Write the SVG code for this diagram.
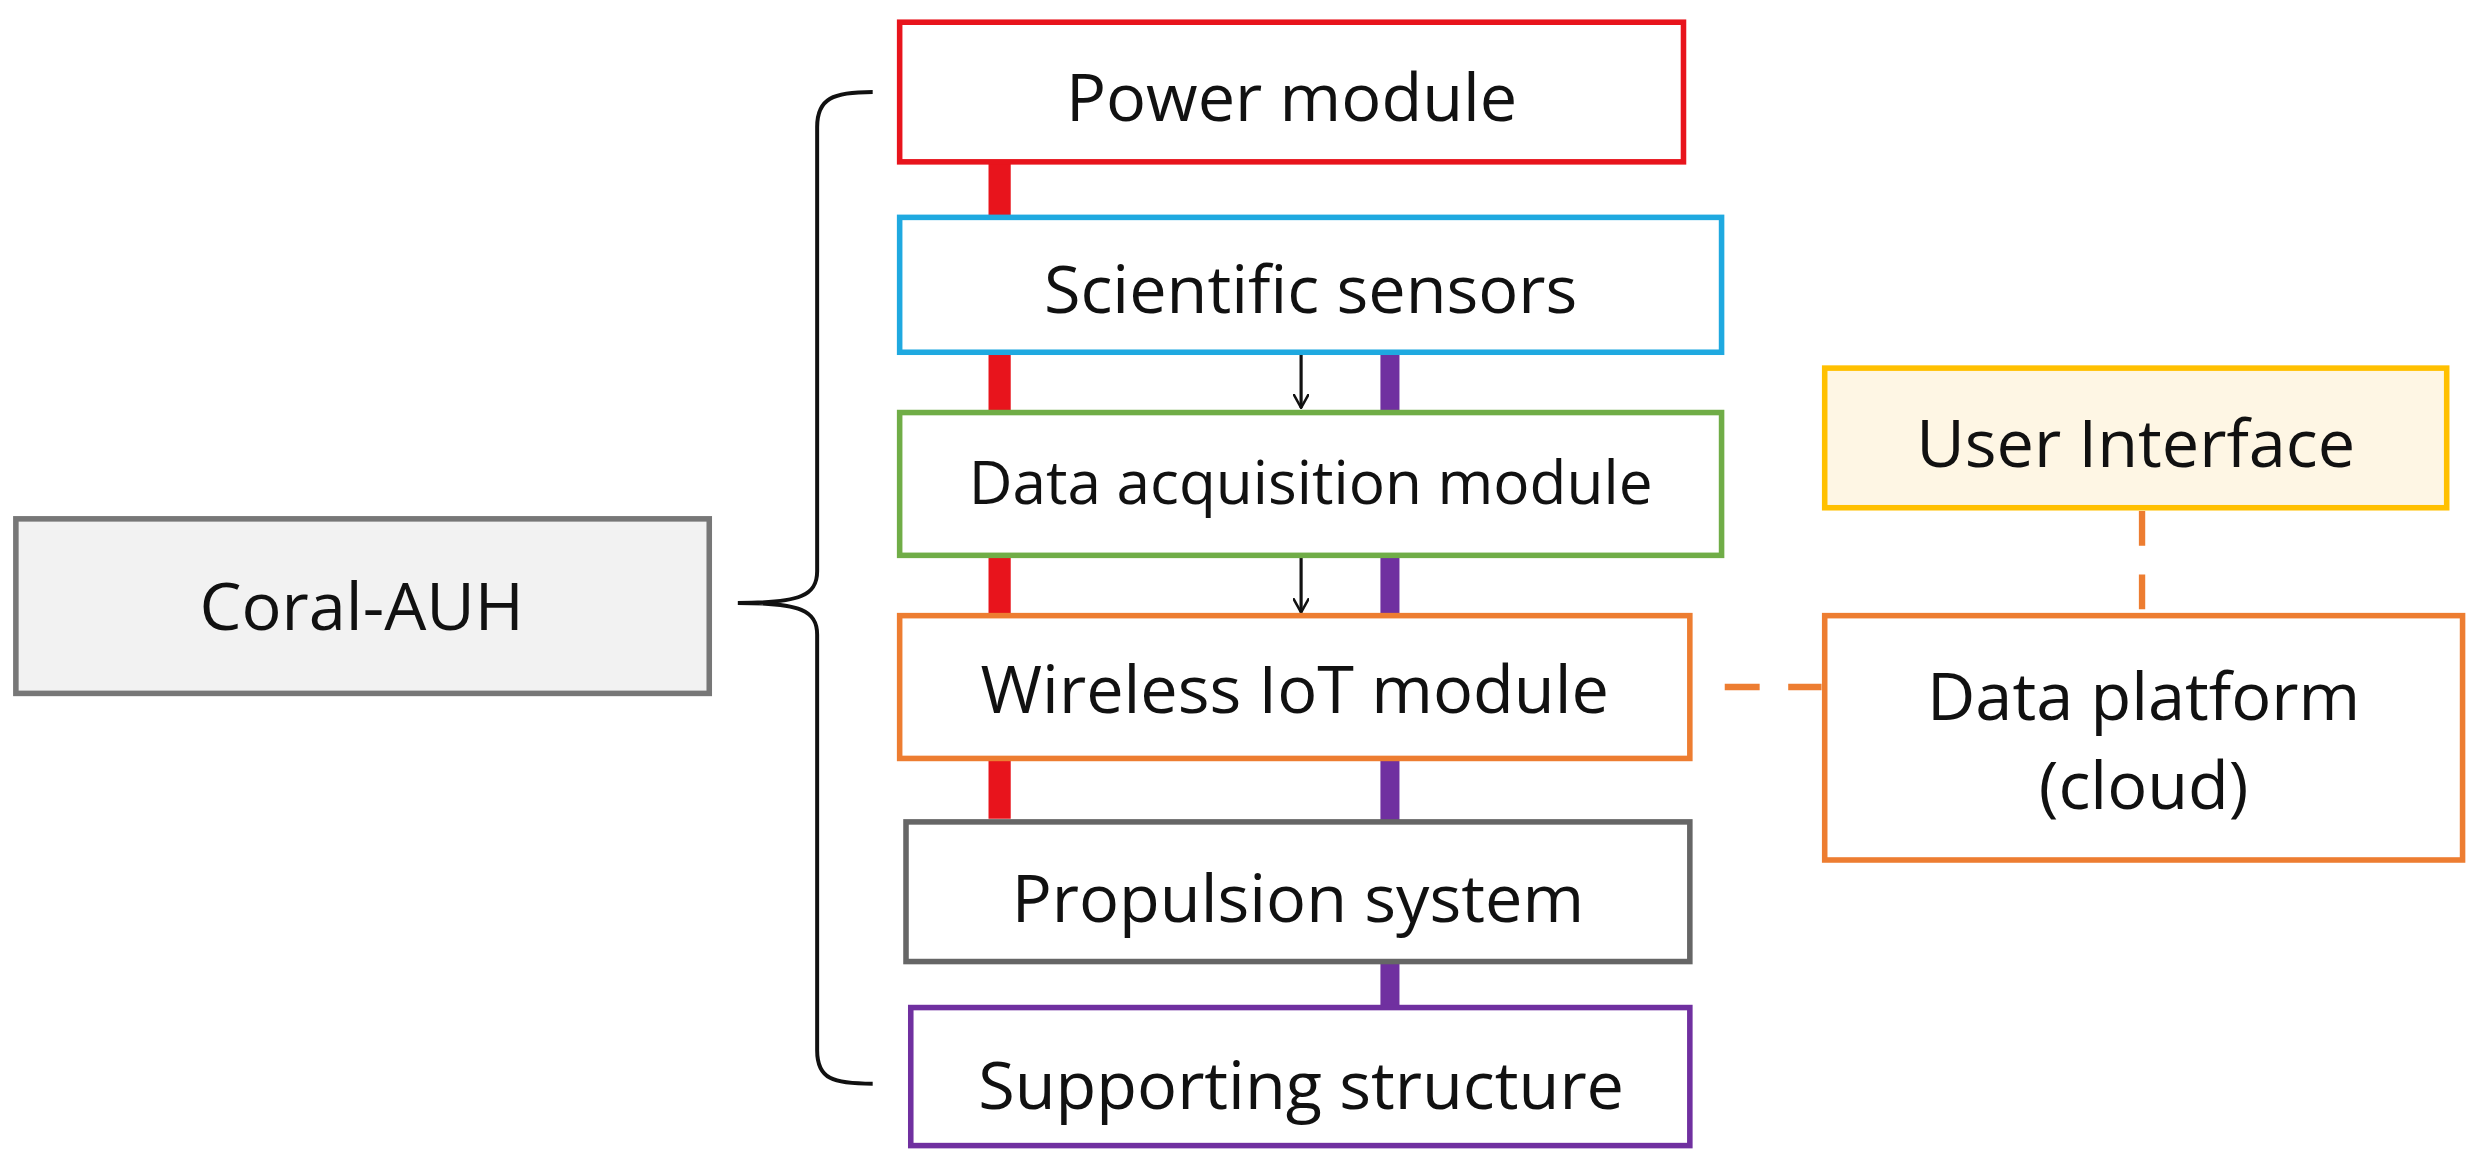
<svg xmlns="http://www.w3.org/2000/svg" width="2488" height="1164" viewBox="0 0 2488 1164">
<style>
.b{stroke-width:3.5;fill:#fff}
text{font-family:"Segoe UI","Open Sans","Noto Sans",sans-serif;font-size:42px;fill:#111;text-anchor:middle;dominant-baseline:central}
</style>
<defs><marker id="a" markerWidth="10" markerHeight="10" refX="9" refY="5" orient="auto" markerUnits="userSpaceOnUse" viewBox="0 0 10 10"><path d="M0,0L9,5L0,10" fill="none" stroke="#111" stroke-width="1.6"/></marker></defs>
<rect width="2488" height="1164" fill="#fff"/>
<g transform="scale(1.5867)">
<g id="connectors">
<g fill="#e8141c"><rect x="623" y="100" width="14" height="40"/><rect x="623" y="220" width="14" height="42"/><rect x="623" y="348" width="14" height="42"/><rect x="623" y="476" width="14" height="40"/></g>
<g fill="#7030a0"><rect x="870" y="220" width="12" height="42"/><rect x="870" y="348" width="12" height="42"/><rect x="870" y="476" width="12" height="44"/><rect x="870" y="604" width="12" height="33"/></g>
<line x1="820" y1="222" x2="820" y2="257" stroke="#111" stroke-width="2" marker-end="url(#a)"/>
<line x1="820" y1="350" x2="820" y2="386" stroke="#111" stroke-width="2" marker-end="url(#a)"/>
<g stroke="#ed7d31" stroke-width="4" stroke-dasharray="22,18" fill="none"><line x1="1087" y1="433" x2="1148" y2="433"/><line x1="1350" y1="322" x2="1350" y2="386"/></g>
<path d="M550,58 C525,58 515,62 515,80 L515,360 C515,375 505,380 465,380 C505,380 515,385 515,400 L515,662 C515,680 525,683 550,683" fill="none" stroke="#111" stroke-width="2.5"/>
</g>
<g id="power"><rect class="b" x="567" y="14" width="494" height="88" stroke="#e8141c"/><text x="814" y="60">Power module</text></g>
<g id="sensors"><rect class="b" x="567" y="137" width="518" height="85" stroke="#1fa9e0"/><text x="826" y="181">Scientific sensors</text></g>
<g id="daq"><rect class="b" x="567" y="260" width="518" height="90" stroke="#70ad47"/><text x="826" y="303" style="font-size:38px">Data acquisition module</text></g>
<g id="iot"><rect class="b" x="567" y="388" width="498" height="90" stroke="#ed7d31"/><text x="816" y="433">Wireless IoT module</text></g>
<g id="propulsion"><rect class="b" x="571" y="518" width="494" height="88" stroke="#666"/><text x="818" y="565">Propulsion system</text></g>
<g id="support"><rect class="b" x="574" y="635" width="491" height="87" stroke="#7030a0"/><text x="820" y="683">Supporting structure</text></g>
<g id="ui"><rect x="1150" y="232" width="392" height="88" stroke="#ffc000" stroke-width="3.5" fill="#fef6e4"/><text x="1346" y="278">User Interface</text></g>
<g id="platform"><rect class="b" x="1150" y="388" width="402" height="154" stroke="#ed7d31"/><text x="1351" y="438">Data platform</text><text x="1351" y="494">(cloud)</text></g>
<g id="coral"><rect x="10" y="327" width="437" height="110" stroke="#777" stroke-width="3.5" fill="#f2f2f2"/><text x="228" y="381">Coral-AUH</text></g>
</g>
</svg>
